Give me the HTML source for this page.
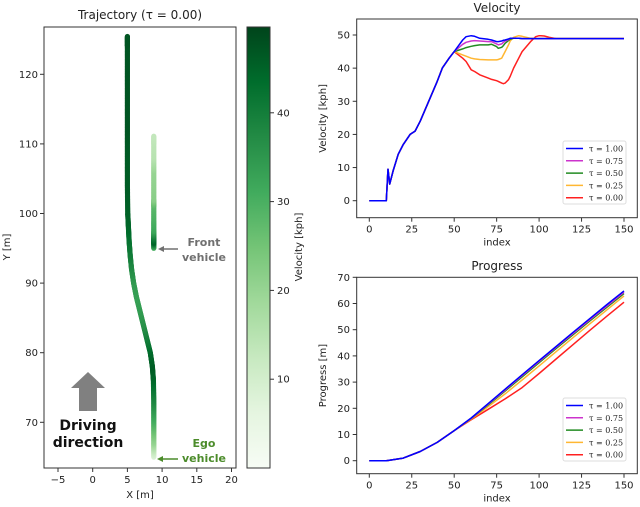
<!DOCTYPE html>
<html><head><meta charset="utf-8">
<style>
html,body{margin:0;padding:0;background:#fff;}
svg{display:block;font-family:"DejaVu Sans","Liberation Sans",sans-serif;}
</style></head>
<body>
<svg id="fig" width="640" height="507" viewBox="0 0 640 507" xmlns="http://www.w3.org/2000/svg">
<defs>
<linearGradient id="greens" x1="0" y1="1" x2="0" y2="0">
<stop offset="0" stop-color="#f7fcf5"/><stop offset="0.125" stop-color="#e5f5e0"/><stop offset="0.25" stop-color="#c7e9c0"/><stop offset="0.375" stop-color="#a1d99b"/><stop offset="0.5" stop-color="#74c476"/><stop offset="0.625" stop-color="#41ab5d"/><stop offset="0.75" stop-color="#238b45"/><stop offset="0.875" stop-color="#006d2c"/><stop offset="1" stop-color="#00441b"/>
</linearGradient>
</defs>
<g id="traj"></g>
<g id="vel"></g>
<g id="prog"></g>
</svg>
<script>
// ---- data ----
const velIndex = [0,10,11,12,14,17,20,24,27,30,35,40,43,47,50,55,57,60,62,65,70,72,75,76,78,79,80,82,83,85,88,90,95,98,100,101,103,106,110,120,150];
const velBlue   = [0,0,9.5,5,9,14,17,20,21,24,30,36,40,43,45,48.5,49.5,49.8,49.6,49,48.7,48.5,48,48,48.2,48.4,48.5,48.8,49,49,49,48.9,48.9,48.9,48.9,48.9,48.9,48.9,48.9,48.9,48.9];
const velPurple = [0,0,9.5,5,9,14,17,20,21,24,30,36,40,43,45,47.2,47.8,48.2,48.3,48.2,48,48,47.3,47,47.3,47.8,48.2,48.6,49,49,49,48.9,48.9,48.9,48.9,48.9,48.9,48.9,48.9,48.9,48.9];
const velGreen  = [0,0,9.5,5,9,14,17,20,21,24,30,36,40,43,45,45.8,46.2,46.6,46.8,47,47,47.2,46.5,46,46.3,46.8,47.5,48.3,48.7,49,49,48.9,48.9,48.9,48.9,48.9,48.9,48.9,48.9,48.9,48.9];
const velOrange = [0,0,9.5,5,9,14,17,20,21,24,30,36,40,43,45,44,43.6,43,42.8,42.6,42.5,42.5,42.5,42.6,43,44,45,47,48.2,49.3,49.8,49.6,49,48.9,48.9,48.9,48.9,48.9,48.9,48.9,48.9];
const velRed    = [0,0,9.5,5,9,14,17,20,21,24,30,36,40,43,45,43,42,39.5,39,38,37,36.6,36.2,36,35.5,35.3,35.5,36.5,37.5,40,43,45,48,49.5,49.8,49.8,49.7,49.3,48.9,48.9,48.9];
const progIndex = [0,10,20,30,40,50,60,70,80,90,100,110,120,130,140,150];
const progBlue   = [0,0,1,3.5,7,11.5,16.3,21.8,27.3,32.8,38.2,43.6,49,54.3,59.6,64.8];
const progPurple = [0,0,1,3.5,7,11.5,16.2,21.6,27,32.5,37.9,43.3,48.6,53.9,59.1,64.3];
const progGreen  = [0,0,1,3.5,7,11.5,16.1,21.3,26.6,32,37.4,42.8,48.1,53.4,58.6,63.8];
const progOrange = [0,0,1,3.5,7,11.5,15.9,20.6,25.5,30.8,36.2,41.6,47,52.3,57.6,62.9];
const progRed    = [0,0,1,3.5,7,11.5,15.6,19.6,23.6,27.9,33.3,38.8,44.3,49.8,55.2,60.5];
const indexTicks = [0,25,50,75,100,125,150];
const velTicks = [0,10,20,30,40,50];
const progTicks = [0,10,20,30,40,50,60,70];
const legendLabels = ["τ = 1.00","τ = 0.75","τ = 0.50","τ = 0.25","τ = 0.00"];
const seriesColors = ["#0000ff","#cc33cc","#228b22","#ffb732","#ff2020"];
const egoY = [65,67,70,73,76,78,80,82,84,86,88,90,92,94,96,98,100,104,108,112,116,120,124,125.5];
const egoX = [8.8,8.8,8.8,8.8,8.75,8.6,8.3,7.8,7.3,6.8,6.3,5.9,5.6,5.4,5.25,5.15,5.05,5,5,5,5,5,5,5];
const egoV = [8,20,30,38,44,46,44,40,36,34,33,34,37,40,42,44,45,46,46,47,47,47,47,47];
const frontY = [95,95.8,96.5,97.5,99,101,102,104,106,108,110,111.2];
const frontV = [30,45,40,32,30,28,22,21,20,15,14,13];
const xTicksTraj = [-5,0,5,10,15,20];
const yTicksTraj = [70,80,90,100,110,120];
const cbTicks = [10,20,30,40];

const NS="http://www.w3.org/2000/svg";
function mk(parent,tag,attrs,text){const e=document.createElementNS(NS,tag);for(const k in attrs)e.setAttribute(k,attrs[k]);if(text!==undefined)e.textContent=text;parent.appendChild(e);return e;}
const greens=[[247,252,245],[229,245,224],[199,233,192],[161,217,155],[116,196,118],[65,171,93],[35,139,69],[0,109,44],[0,68,27]];
function cmap(v){let t=Math.max(0,Math.min(1,v/49.6))*8;const i=Math.min(7,Math.floor(t)),f=t-i;const a=greens[i],b=greens[i+1];return `rgb(${a.map((c,k)=>Math.round(c+(b[k]-c)*f)).join(',')})`;}

// ---- trajectory ----
const T=document.getElementById('traj');
const tx=x=>92.7+x*6.94, ty=y=>74.3+(120-y)*6.96;
let el=mk(T,'text',{x:140,y:19,'font-size':12,'text-anchor':'middle',fill:'#222'},'Trajectory (τ = 0.00)');

const egoG=mk(T,'g',{});

for(let i=0;i<egoY.length-1;i++){const n=24;for(let j=0;j<n;j++){const f=j/n;const x=egoX[i]+(egoX[i+1]-egoX[i])*f,y=egoY[i]+(egoY[i+1]-egoY[i])*f,v=egoV[i]+(egoV[i+1]-egoV[i])*f;
mk(egoG,'circle',{cx:tx(x),cy:ty(y),r:2.6,fill:cmap(v)});}}
const frG=mk(T,'g',{});

for(let i=0;i<frontY.length-1;i++){const n=12;for(let j=0;j<n;j++){const f=j/n;const y=frontY[i]+(frontY[i+1]-frontY[i])*f,v=frontV[i]+(frontV[i+1]-frontV[i])*f;
mk(frG,'circle',{cx:tx(8.8),cy:ty(y),r:2.6,fill:cmap(v)});}}
el=mk(T,'rect',{x:44,y:27,width:192,height:441,fill:'none',stroke:'#333','stroke-width':1});

xTicksTraj.forEach(v=>{mk(T,'line',{x1:tx(v),x2:tx(v),y1:468,y2:472,stroke:'#333'});
el=mk(T,'text',{x:tx(v),y:483,'font-size':10,'text-anchor':'middle',fill:'#222'},v<0?'−'+(-v):v);});
yTicksTraj.forEach(v=>{mk(T,'line',{x1:40,x2:44,y1:ty(v),y2:ty(v),stroke:'#333'});
el=mk(T,'text',{x:38,y:ty(v)+3.5,'font-size':10,'text-anchor':'end',fill:'#222'},v);});
el=mk(T,'text',{x:140,y:498,'font-size':10,'text-anchor':'middle',fill:'#222'},'X [m]');
el=mk(T,'text',{x:10,y:247,'font-size':10,'text-anchor':'middle',fill:'#222',transform:'rotate(-90 10 247)'},'Y [m]');
el=mk(T,'rect',{x:247,y:27,width:23,height:441,fill:'url(#greens)',stroke:'#333'});
const cy=v=>468-v*8.88;
cbTicks.forEach(v=>{mk(T,'line',{x1:270,x2:274,y1:cy(v),y2:cy(v),stroke:'#333'});
el=mk(T,'text',{x:277,y:cy(v)+3.5,'font-size':10,fill:'#222'},v);});
el=mk(T,'text',{x:302,y:247,'font-size':10,'text-anchor':'middle',fill:'#222',transform:'rotate(-90 302 247)'},'Velocity [kph]');
el=mk(T,'path',{d:'M71 388 L88 372 L105 388 L97 388 L97 411 L79 411 L79 388 Z',fill:'#808080'});
el=mk(T,'text',{x:88,y:430,'font-size':14,'font-weight':'bold','text-anchor':'middle',fill:'#111'},'Driving');
el=mk(T,'text',{x:88,y:447,'font-size':14,'font-weight':'bold','text-anchor':'middle',fill:'#111'},'direction');
el=mk(T,'text',{x:204,y:246,'font-size':11,'font-weight':'bold','text-anchor':'middle',fill:'#707070'},'Front');
el=mk(T,'text',{x:204,y:261,'font-size':11,'font-weight':'bold','text-anchor':'middle',fill:'#707070'},'vehicle');
mk(T,'line',{x1:178,x2:162,y1:249,y2:249,stroke:'#707070','stroke-width':1.5});mk(T,'path',{d:'M158 249 L164 246 L164 252 Z',fill:'#707070'});
el=mk(T,'text',{x:204,y:447,'font-size':11,'font-weight':'bold','text-anchor':'middle',fill:'#4c8c2b'},'Ego');
el=mk(T,'text',{x:204,y:462,'font-size':11,'font-weight':'bold','text-anchor':'middle',fill:'#4c8c2b'},'vehicle');
mk(T,'line',{x1:178,x2:161,y1:459,y2:459,stroke:'#4c8c2b','stroke-width':1.5});mk(T,'path',{d:'M157 459 L163 456 L163 462 Z',fill:'#4c8c2b'});

// ---- line plots ----
function linePlot(G,cfg){
  const ix=v=>369.3+v*(254.7/150);
  const iy=v=>cfg.y0-v*cfg.sy;
  let e=mk(G,'text',{x:497,y:cfg.titleY,'font-size':12,'text-anchor':'middle',fill:'#222'},cfg.title);
  
  const clip=mk(G,'g',{});
  for(let k=cfg.series.length-1;k>=0;k--){const s=cfg.series[k];
    const d=cfg.xs.map((x,i)=>(i?'L':'M')+ix(x).toFixed(1)+' '+iy(s[i]).toFixed(1)).join(' ');
    const p=mk(clip,'path',{d:d,fill:'none',stroke:seriesColors[k],'stroke-width':1.5,'stroke-linejoin':'round'});
    }
  e=mk(G,'rect',{x:356.7,y:cfg.top,width:280.6,height:cfg.bot-cfg.top,fill:'none',stroke:'#333'});
  
  indexTicks.forEach(v=>{mk(G,'line',{x1:ix(v),x2:ix(v),y1:cfg.bot,y2:cfg.bot+4,stroke:'#333'});
    const t=mk(G,'text',{x:ix(v),y:cfg.bot+15,'font-size':10,'text-anchor':'middle',fill:'#222'},v);
    });
  cfg.yt.forEach(v=>{mk(G,'line',{x1:352.7,x2:356.7,y1:iy(v),y2:iy(v),stroke:'#333'});
    const t=mk(G,'text',{x:350,y:iy(v)+3.5,'font-size':10,'text-anchor':'end',fill:'#222'},v);
    });
  e=mk(G,'text',{x:497,y:cfg.bot+28,'font-size':10,'text-anchor':'middle',fill:'#222'},'index');
  
  const my=(cfg.top+cfg.bot)/2;
  e=mk(G,'text',{x:326,y:my,'font-size':10,'text-anchor':'middle',fill:'#222',transform:`rotate(-90 326 ${my})`},cfg.ylabel);
  
  const L=mk(G,'g',{});
  mk(L,'rect',{x:563,y:cfg.ly,width:63,height:63,fill:'#fff',stroke:'#ddd',rx:2});
  legendLabels.forEach((lab,k)=>{const yy=cfg.ly+7.5+k*12.3;
    mk(L,'line',{x1:566,x2:583,y1:yy,y2:yy,stroke:seriesColors[k],'stroke-width':1.5});
    const t=mk(L,'text',{x:589,y:yy+3,'font-size':8,fill:'#222','font-family':'DejaVu Serif, serif'},lab);
    });
}
linePlot(document.getElementById('vel'),{name:'velocity',title:'Velocity',titleY:12,top:19,bot:217.7,y0:200.7,sy:165.7/50,yt:velTicks,ylabel:'Velocity [kph]',xs:velIndex,series:[velBlue,velPurple,velGreen,velOrange,velRed],ly:141});
linePlot(document.getElementById('prog'),{name:'progress',title:'Progress',titleY:270,top:277.3,bot:473.7,y0:460.7,sy:183.4/70,yt:progTicks,ylabel:'Progress [m]',xs:progIndex,series:[progBlue,progPurple,progGreen,progOrange,progRed],ly:398});
</script>
</body></html>
